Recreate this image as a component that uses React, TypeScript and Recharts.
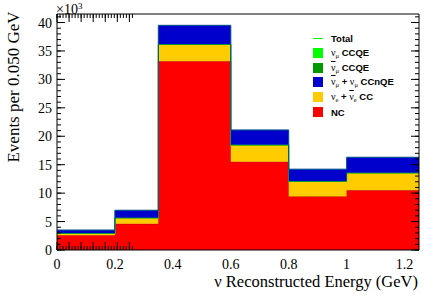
import React from 'react'
import { ComposedChart, Area, Line, XAxis, YAxis } from 'recharts'

// bin edges in GeV (variable widths)
const binEdges = [0, 0.2, 0.35, 0.6, 0.8, 1.0, 1.25]
// bin contents, x10^3 events per 0.050 GeV
const nc = [2.6, 4.6, 33.2, 15.5, 9.4, 10.5]
const nueCC = [0.2, 1.0, 2.9, 2.9, 2.6, 3.0]
const numuBarCCQE = [0.1, 0.05, 0.06, 0.06, 0.06, 0.06]
const numuCCQE = [0.05, 0.03, 0.04, 0.04, 0.04, 0.04]
const ccnqe = [0.55, 1.3, 3.3, 2.6, 2.1, 2.7]

const xTicks = [0, 0.2, 0.4, 0.6, 0.8, 1.0, 1.2]
const yTicks = [0, 5, 10, 15, 20, 25, 30, 35, 40]
const xMinor = Array.from({ length: 26 }, (_, i) => +(i * 0.05).toFixed(2))
const yMinor = Array.from({ length: 42 }, (_, i) => i)

const W = 442
const H = 299
const serif = 'Liberation Serif'
const sans = 'Liberation Sans'

// step histogram rows: last edge repeats the last bin
const rows = binEdges.map((x, i) => {
  const j = Math.min(i, nc.length - 1)
  return {
    x,
    nc: nc[j],
    nueCC: nueCC[j],
    numuBarCCQE: numuBarCCQE[j],
    numuCCQE: numuCCQE[j],
    ccnqe: ccnqe[j],
    total: nc[j] + nueCC[j] + numuBarCCQE[j] + numuCCQE[j] + ccnqe[j],
  }
})

const nu = (sub: string, bar = false) => (
  <span style={{ fontFamily: serif, fontWeight: 400, fontSize: 10 }}>
    <span style={bar ? { textDecoration: 'overline' } : undefined}>ν</span>
    <span style={{ fontSize: 6.5, verticalAlign: -2 }}>{sub}</span>
  </span>
)

const legendRows: { color: string; line?: boolean; label: React.ReactNode }[] = [
  { color: '#00ff00', line: true, label: 'Total' },
  { color: '#00ff00', label: <>{nu('μ')} CCQE</> },
  { color: '#009900', label: <>{nu('μ', true)} CCQE</> },
  { color: '#0000cc', label: <>{nu('μ', true)} + {nu('μ')} CCnQE</> },
  { color: '#ffcc00', label: <>{nu('e')} + {nu('e', true)} CC</> },
  { color: '#ff0000', label: 'NC' },
]

function HistLegend() {
  return (
    <>
      {legendRows.map((r, i) => {
        const cy = 38 + i * 14.8
        return (
          <div key={i} style={{ position: 'absolute', left: 313, top: cy - 7, height: 14, display: 'flex', alignItems: 'center' }}>
            {r.line ? (
              <div style={{ width: 10, height: 1, background: r.color }} />
            ) : (
              <div style={{ width: 10, height: 10, background: r.color }} />
            )}
            <div style={{ marginLeft: 8, fontFamily: sans, fontWeight: 700, fontSize: 9.5, whiteSpace: 'nowrap', color: '#000' }}>
              {r.label}
            </div>
          </div>
        )
      })}
    </>
  )
}

// serif tick labels like ROOT's Times
const XTick = (p: any) => (
  <text x={p.x} y={p.y} dy={11} textAnchor="middle" style={{ fontFamily: serif, fontSize: 14 }} fill="#000">
    {String(+Number(p.payload.value).toFixed(2))}
  </text>
)
const YTick = (p: any) => (
  <text x={p.x} y={p.y} dy={5} textAnchor="end" style={{ fontFamily: serif, fontSize: 14 }} fill="#000">
    {p.payload.value}
  </text>
)
const noTick = () => <g />

export default function App() {
  return (
    <div style={{ position: 'absolute', left: 0, top: 0, width: W, height: H, background: '#fff' }}>
      <ComposedChart width={W} height={H} data={rows} margin={{ top: 14, right: 23, bottom: 19, left: 17 }}>
        <Area xAxisId="x" yAxisId="y" dataKey="nc" stackId="s" type="stepAfter" fill="#ff0000" fillOpacity={1} stroke="#b80000" strokeWidth={1} dot={false} activeDot={false} isAnimationActive={false} />
        <Area xAxisId="x" yAxisId="y" dataKey="nueCC" stackId="s" type="stepAfter" fill="#ffcc00" fillOpacity={1} stroke="#ffcc00" strokeWidth={1} dot={false} activeDot={false} isAnimationActive={false} />
        <Area xAxisId="x" yAxisId="y" dataKey="numuBarCCQE" stackId="s" type="stepAfter" fill="#009900" fillOpacity={1} stroke="#009900" strokeWidth={1} dot={false} activeDot={false} isAnimationActive={false} />
        <Area xAxisId="x" yAxisId="y" dataKey="numuCCQE" stackId="s" type="stepAfter" fill="#00ff00" fillOpacity={1} stroke="#00ff00" strokeWidth={0.6} dot={false} activeDot={false} isAnimationActive={false} />
        <Area xAxisId="x" yAxisId="y" dataKey="ccnqe" stackId="s" type="stepAfter" fill="#0000cc" fillOpacity={1} stroke="#0000cc" strokeWidth={1} dot={false} activeDot={false} isAnimationActive={false} />
        <Line xAxisId="x" yAxisId="y" dataKey="total" type="stepAfter" stroke="#00ff00" strokeOpacity={0.35} strokeWidth={1} dot={false} activeDot={false} isAnimationActive={false} />

        <XAxis xAxisId="x" type="number" dataKey="x" domain={[0, 1.25]} allowDataOverflow ticks={xTicks} interval={0} height={30}
          stroke="#000" tickLine={false} tickSize={6} tickMargin={2} tick={XTick} />
        <YAxis yAxisId="y" type="number" domain={[0, 41.5]} allowDataOverflow ticks={yTicks} interval={0} width={40}
          stroke="#000" tickLine={false} tickSize={3} tickMargin={2} tick={YTick} />

        {/* inward ticks on all four sides, ROOT style */}
        <XAxis xAxisId="xb1" type="number" domain={[0, 1.25]} allowDataOverflow ticks={xTicks} interval={0} mirror height={0.01} stroke="#000" axisLine={false} tick={noTick} tickSize={8} />
        <XAxis xAxisId="xb2" type="number" domain={[0, 1.25]} allowDataOverflow ticks={xMinor} interval={0} mirror height={0.01} stroke="#000" axisLine={false} tick={noTick} tickSize={4} />
        <XAxis xAxisId="xt1" orientation="top" type="number" domain={[0, 1.25]} allowDataOverflow ticks={xTicks} interval={0} mirror height={0.01} stroke="#000" tick={noTick} tickSize={8} />
        <XAxis xAxisId="xt2" orientation="top" type="number" domain={[0, 1.25]} allowDataOverflow ticks={xMinor} interval={0} mirror height={0.01} stroke="#000" axisLine={false} tick={noTick} tickSize={4} />
        <YAxis yAxisId="yl1" type="number" domain={[0, 41.5]} allowDataOverflow ticks={yTicks} interval={0} mirror width={0.01} stroke="#000" axisLine={false} tick={noTick} tickSize={8} />
        <YAxis yAxisId="yl2" type="number" domain={[0, 41.5]} allowDataOverflow ticks={yMinor} interval={0} mirror width={0.01} stroke="#000" axisLine={false} tick={noTick} tickSize={4} />
        <YAxis yAxisId="yr1" orientation="right" type="number" domain={[0, 41.5]} allowDataOverflow ticks={yTicks} interval={0} mirror width={0.01} stroke="#000" tick={noTick} tickSize={8} />
        <YAxis yAxisId="yr2" orientation="right" type="number" domain={[0, 41.5]} allowDataOverflow ticks={yMinor} interval={0} mirror width={0.01} stroke="#000" axisLine={false} tick={noTick} tickSize={4} />
      </ComposedChart>

      <HistLegend />

      <div style={{ position: 'absolute', left: 56, top: -1, fontFamily: serif, fontSize: 14, lineHeight: '15px', color: '#000' }}>
        ×10<span style={{ fontSize: 9, verticalAlign: 5 }}>3</span>
      </div>
      <div style={{ position: 'absolute', left: 13, top: 87, transform: 'translate(-50%, -50%) rotate(-90deg)', fontFamily: serif, fontSize: 17, lineHeight: 1, whiteSpace: 'nowrap', color: '#000' }}>
        Events per 0.050 GeV
      </div>
      <div style={{ position: 'absolute', right: 24, top: 274, fontFamily: serif, fontSize: 16.5, lineHeight: 1, whiteSpace: 'nowrap', color: '#000' }}>
        ν Reconstructed Energy (GeV)
      </div>
    </div>
  )
}
